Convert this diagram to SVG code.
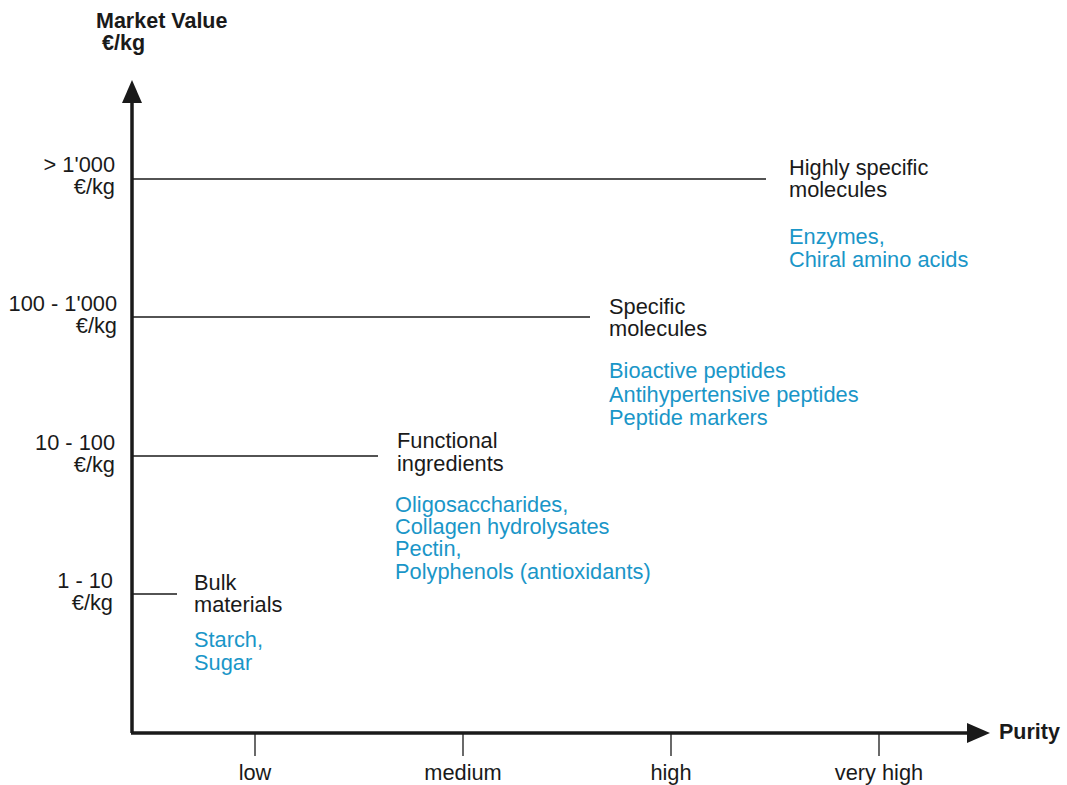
<svg xmlns="http://www.w3.org/2000/svg" width="1067" height="785" viewBox="0 0 1067 785">
  <style>
    text { font-family: "Liberation Sans", Arial, sans-serif; font-size: 21.8px; fill: #1a1a1a; }
    .bold { font-weight: bold; font-size: 21.5px; }
    .val { text-anchor: end; }
    .tick { text-anchor: middle; }
    .ex { fill: #1a96c8; }
    .axis { stroke: #1a1a1a; stroke-width: 3.5; fill: none; }
    .level { stroke: #1a1a1a; stroke-width: 1.3; }
    .tk { stroke: #1a1a1a; stroke-width: 1.3; }
  </style>

  <!-- axes -->
  <g id="axes">
    <path class="axis" d="M132,733 L132,103"/>
    <path d="M132,80 L122,103 L142,103 z" fill="#1a1a1a"/>
    <path class="axis" d="M131,733 L968,733"/>
    <path d="M990,733 L967,723 L967,743 z" fill="#1a1a1a"/>
    <text class="bold" x="96" y="28">Market Value</text>
    <text class="bold" x="102" y="50">€/kg</text>
    <text class="bold" x="999" y="739">Purity</text>
  </g>

  <!-- purity ticks -->
  <g id="purity-ticks">
    <line class="tk" x1="255" y1="734" x2="255" y2="756"/>
    <line class="tk" x1="463" y1="734" x2="463" y2="756"/>
    <line class="tk" x1="671" y1="734" x2="671" y2="756"/>
    <line class="tk" x1="879" y1="734" x2="879" y2="756"/>
    <text class="tick" x="255" y="780">low</text>
    <text class="tick" x="463" y="780">medium</text>
    <text class="tick" x="671" y="780">high</text>
    <text class="tick" x="879" y="780">very high</text>
  </g>

  <!-- value levels -->
  <g id="connectors">
    <line class="level" x1="132" y1="179" x2="766" y2="179"/>
    <line class="level" x1="132" y1="317" x2="590" y2="317"/>
    <line class="level" x1="132" y1="456" x2="378" y2="456"/>
    <line class="level" x1="132" y1="594" x2="177" y2="594"/>
  </g>

  <g id="value-labels">
    <text class="val" x="115" y="172">&gt; 1'000</text>
    <text class="val" x="115" y="194">€/kg</text>
    <text class="val" x="117" y="311">100 - 1'000</text>
    <text class="val" x="117" y="333">€/kg</text>
    <text class="val" x="115" y="450">10 - 100</text>
    <text class="val" x="115" y="472">€/kg</text>
    <text class="val" x="113" y="588">1 - 10</text>
    <text class="val" x="113" y="610">€/kg</text>
  </g>

  <g id="highly-specific">
    <text x="789" y="175">Highly specific</text>
    <text x="789" y="197">molecules</text>
    <text class="ex" x="789" y="244">Enzymes,</text>
    <text class="ex" x="789" y="267">Chiral amino acids</text>
  </g>

  <g id="specific">
    <text x="609" y="314">Specific</text>
    <text x="609" y="336">molecules</text>
    <text class="ex" x="609" y="378">Bioactive peptides</text>
    <text class="ex" x="609" y="402">Antihypertensive peptides</text>
    <text class="ex" x="609" y="425">Peptide markers</text>
  </g>

  <g id="functional">
    <text x="397" y="448">Functional</text>
    <text x="397" y="471">ingredients</text>
    <text class="ex" x="395" y="512">Oligosaccharides,</text>
    <text class="ex" x="395" y="534">Collagen hydrolysates</text>
    <text class="ex" x="395" y="556">Pectin,</text>
    <text class="ex" x="395" y="579">Polyphenols (antioxidants)</text>
  </g>

  <g id="bulk">
    <text x="194" y="590">Bulk</text>
    <text x="194" y="612">materials</text>
    <text class="ex" x="194" y="647">Starch,</text>
    <text class="ex" x="194" y="670">Sugar</text>
  </g>
</svg>
